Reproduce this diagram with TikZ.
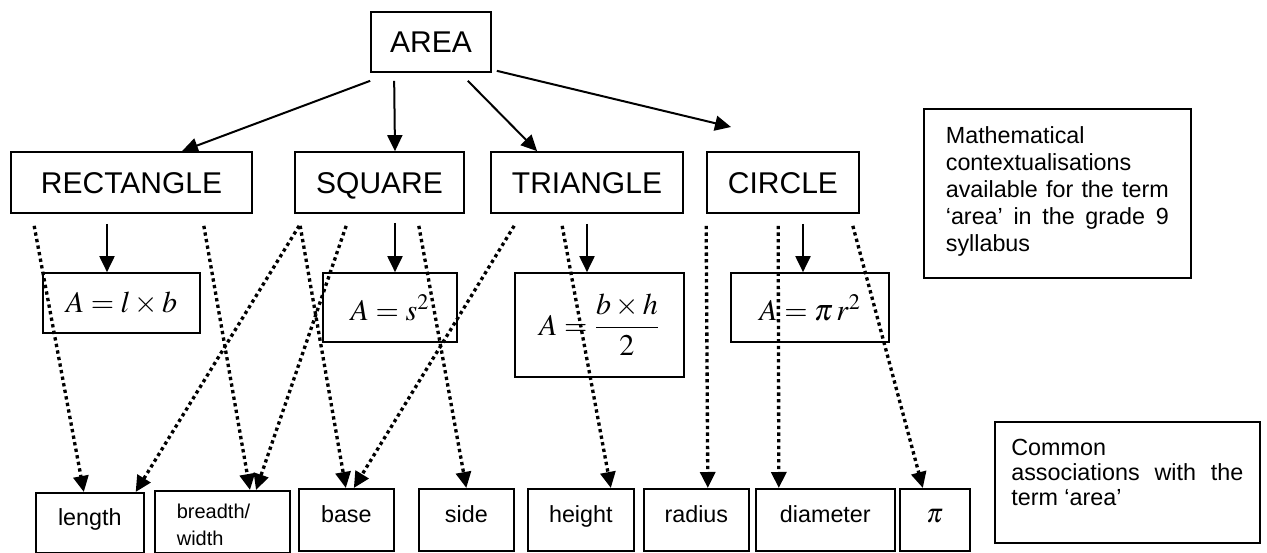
\documentclass[tikz,border=0pt]{standalone}
\usepackage{mathptmx}
\usepackage[no-math]{fontspec}
\setmainfont{Liberation Sans}
\usetikzlibrary{arrows.meta,positioning}

\begin{document}
\begin{tikzpicture}[
    x=0.6pt, y=-0.6pt,
    plainbox/.style={rectangle, draw, line width=1pt, inner sep=0pt},
    topbox/.style={plainbox, minimum height=36.6pt, text height=13pt, text depth=0pt, font=\fontsize{18}{21.6}\selectfont},
    formbox/.style={plainbox, font=\fontsize{18}{21.6}\selectfont},
    wordbox/.style={plainbox, anchor=north west, text height=20.4pt, text depth=16.8pt, font=\fontsize{14}{16.8}\selectfont},
    notebox/.style={plainbox, anchor=north west, align=justify, font=\fontsize{14}{16.2}\selectfont},
    arr/.style={-{Triangle[length=9.6pt, width=9pt]}, line width=1.2pt},
    dotarr/.style={-{Triangle[length=9.6pt, width=9pt]}, line width=2pt, dash pattern=on 2pt off 2pt}
]
    \useasboundingbox (0,0) rectangle (1267,553);

    % shapes
    \node [topbox, minimum width=72pt, minimum height=36pt] (area) at (431,42) {AREA};
    \node [topbox, minimum width=144.6pt] (rect) at (131.5,182.5) {RECTANGLE};
    \node [topbox, minimum width=101.4pt] (square) at (379.5,182.5) {SQUARE};
    \node [topbox, minimum width=115.2pt] (tri) at (587,182.5) {TRIANGLE};
    \node [topbox, minimum width=91.2pt] (circ) at (783,182.5) {CIRCLE};
    \coordinate (circtip) at (731,127);

    % formulas
    \node [formbox, minimum width=94.2pt, minimum height=36pt] (rectf) at (121.5,303) {$A=l\times b$};
    \node [formbox, minimum width=80.4pt, minimum height=41.4pt] (squaref) at (390,307.5) {$A=s^2$};
    \node [formbox, minimum width=101.4pt, minimum height=62.4pt] (trif) at (599.5,325) {$\displaystyle A=\frac{b\times h}{2}$};
    \node [formbox, minimum width=94.8pt, minimum height=41.4pt] (circf) at (810,307.5) {$A=\pi\,r^2$};

    % associated words
    \node [wordbox, minimum width=64.8pt, text height=19.8pt, text depth=16.2pt] (wlen) at (35,492) {length};
    \node [wordbox, text width=54.6pt, inner xsep=13.2pt, align=left, text height=16.8pt, text depth=20.4pt,
           font=\fontsize{12}{16.2}\selectfont] (wbreadth) at (154,490) {breadth/\\width};
    \node [wordbox, minimum width=57pt] (wbase) at (298,488) {base};
    \node [wordbox, minimum width=57pt] (wside) at (418,488) {side};
    \node [wordbox, minimum width=63.6pt] (wheight) at (527,488) {height};
    \node [wordbox, minimum width=63pt] (wradius) at (643,488) {radius};
    \node [wordbox, minimum width=83.4pt] (wdiam) at (755,488) {diameter};
    \node [wordbox, minimum width=42pt, font=\fontsize{16}{16.8}\selectfont] (wpi) at (899,488) {$\pi$};

    % side notes
    \node [notebox, text width=133.8pt, inner xsep=13.2pt, text height=21pt, text depth=80.4pt] (mathnote) at (923,108)
        {Mathematical\linebreak contextualisations\linebreak available for the term\linebreak ‘area’ in the grade 9\linebreak syllabus};
    \node [notebox, font=\fontsize{14}{15}\selectfont, text width=139.2pt, inner xsep=8.4pt, minimum width=159pt,
           text height=20.4pt, text depth=52.2pt] (assocnote) at (994,421)
        {Common\linebreak associations with the\linebreak term ‘area’};

    % solid arrows
    \draw [arr] ([shift={(0,8)}]area.south west) -- ([shift={(50.5,0)}]rect.north);
    \draw [arr] ([shift={(24,8)}]area.south west) -- ([shift={(15.5,0)}]square.north);
    \draw [arr] ([shift={(-24,8)}]area.south east) -- ([shift={(47,0)}]tri.north west);
    \draw [arr] ([shift={(5,-2)}]area.south east) -- (circtip);
    \draw [arr] ([shift={(-24.5,10)}]rect.south) -- ([shift={(-14.5,0)}]rectf.north);
    \draw [arr] ([shift={(15.5,9)}]square.south) -- ([shift={(5,0)}]squaref.north);
    \draw [arr] ([shift={(0,10)}]tri.south) -- ([shift={(-12.5,0)}]trif.north);
    \draw [arr] ([shift={(20,10)}]circ.south) -- ([shift={(-7,0)}]circf.north);

    % dotted arrows
    \draw [dotarr] ([shift={(24,12)}]rect.south west) -- ([shift={(-6,0)}]wlen.north);
    \draw [dotarr] ([shift={(-49,12)}]rect.south east) -- ([shift={(96,0)}]wbreadth.north west);
    \draw [dotarr] ([shift={(5,12)}]square.south west) -- ([shift={(-9,0)}]wlen.north east);
    \draw [dotarr] ([shift={(6,12)}]square.south west) -- ([shift={(-0.5,0)}]wbase.north);
    \draw [dotarr] ([shift={(52,12)}]square.south west) -- ([shift={(102,0)}]wbreadth.north west);
    \draw [dotarr] ([shift={(-46,12)}]square.south east) -- (wside.north);
    \draw [dotarr] ([shift={(24,12)}]tri.south west) -- ([shift={(7.5,0)}]wbase.north);
    \draw [dotarr] ([shift={(72,12)}]tri.south west) -- ([shift={(30,0)}]wheight.north);
    \draw [dotarr] ([shift={(0,12)}]circ.south west) -- ([shift={(11.5,0)}]wradius.north);
    \draw [dotarr] ([shift={(72,12)}]circ.south west) -- ([shift={(-46.5,0)}]wdiam.north);
    \draw [dotarr] ([shift={(-7,12)}]circ.south east) -- ([shift={(-12,0)}]wpi.north);
\end{tikzpicture}
\end{document}
